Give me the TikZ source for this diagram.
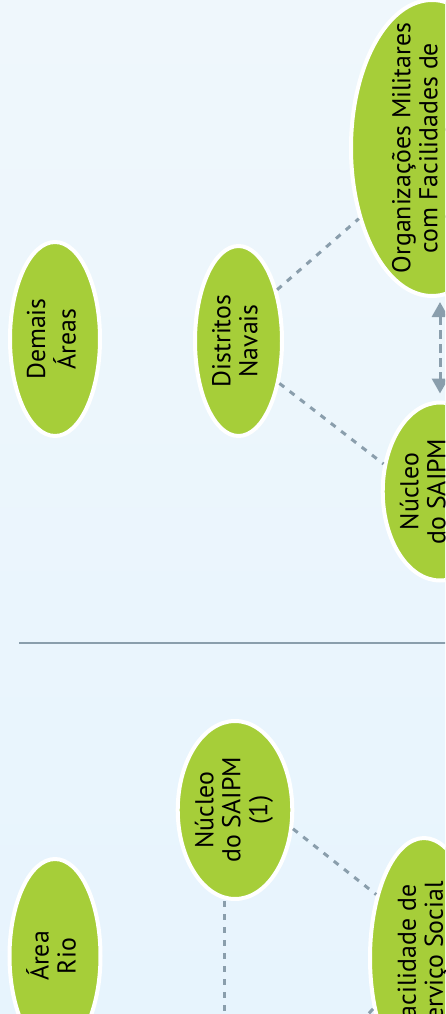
\documentclass[tikz,border=0pt]{standalone}
\usepackage{fontspec}
\setmainfont{PT Sans}
\usetikzlibrary{shapes.geometric, arrows.meta}
\definecolor{bubblegreen}{HTML}{A6CE39}
\definecolor{linkgray}{HTML}{8A9EAC}
\definecolor{bgtop}{HTML}{EFF7FC}
\definecolor{bgbottom}{HTML}{E7F4FD}
\newcommand{\bubbletext}[1]{\makebox[0pt]{\begin{tabular}{@{}c@{}}#1\end{tabular}}}

\begin{document}
\begin{tikzpicture}[x=1pt,y=-1pt,
    bubble/.style={ellipse,draw=white,line width=4pt,fill=bubblegreen,rotate=90,inner sep=0pt,font=\fontsize{25.8}{27}\selectfont},
    link/.style={draw=linkgray,line width=3pt,dash pattern=on 6pt off 7pt},
    biarrow/.style={{Triangle[width=16pt,length=15pt]}-{Triangle[width=16pt,length=15pt]},draw=linkgray,line width=3pt,dash pattern=on 9pt off 5pt,shorten <=4pt,shorten >=7pt},
    sepline/.style={draw=linkgray,line width=2pt}]

\useasboundingbox (0,0) rectangle (445,1014);
\shade[top color=bgtop,bottom color=bgbottom] (0,0) rectangle (445,1014);
\clip (0,0) rectangle (445,1014);

\node[bubble,minimum width=194pt,minimum height=90pt]  (demais)       at (55,339)    {\bubbletext{Demais\\Áreas}};
\node[bubble,minimum width=190pt,minimum height=87pt]  (distritos)    at (238.5,341) {\bubbletext{Distritos\\Navais}};
\node[bubble,minimum width=296pt,minimum height=162pt] (organizacoes) at (432,148)   {\bubbletext{Organizações Militares\\com Facilidades de\\Serviço Social}};
\node[bubble,minimum width=178pt,minimum height=112pt] (nucleo2)      at (440,491.5) {\bubbletext{Núcleo\\do SAIPM\\\mbox{}}};
\node[bubble,minimum width=178pt,minimum height=112pt] (nucleo1)      at (235,810)   {\bubbletext{Núcleo\\do SAIPM\\(1)}};
\node[bubble,minimum width=194pt,minimum height=91pt]  (rio)          at (55,956)    {\bubbletext{Área\\Rio}};
\node[bubble,minimum width=240pt,minimum height=108pt] (facilidade)   at (424,958)   {\bubbletext{Facilidade de\\Serviço Social}};

\coordinate (sepleft)  at (19,643);
\coordinate (sepright) at (460,643);
\coordinate (riodown)  at (224,1030);
\coordinate (facdown)  at (300,1085);

\draw[sepline] (sepleft) -- (sepright);

\path[link]
(distritos.-37.5) edge (organizacoes.134.2)
(distritos.-136.6) edge (nucleo2.64.2)
(nucleo1.-108.4) edge (facilidade.37.7)
(nucleo1.west -| riodown) edge (riodown)
(facilidade.135.5) edge (facdown)
;

\draw[biarrow] (organizacoes.west -| nucleo2.east) -- (nucleo2.east);
\end{tikzpicture}
\end{document}
